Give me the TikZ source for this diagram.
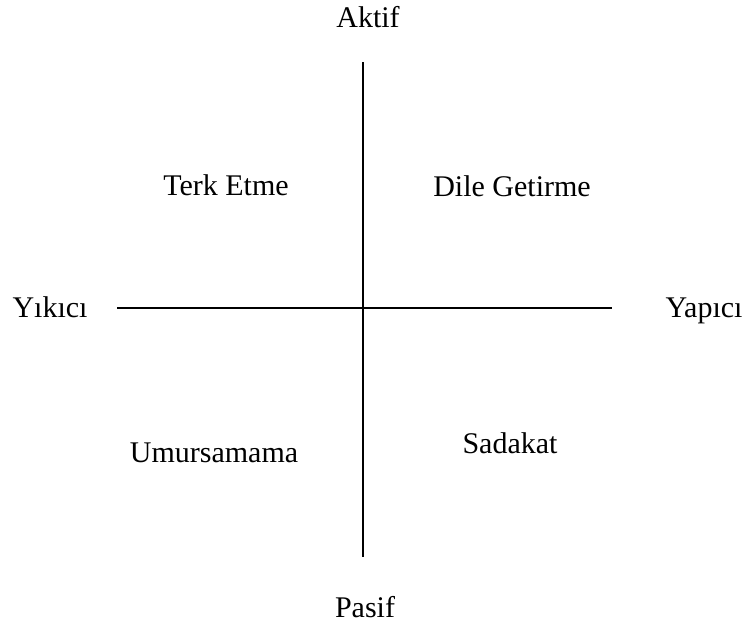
\documentclass[tikz,border=0pt]{standalone}
\usepackage{fontspec}
\setmainfont{Liberation Serif}
\usetikzlibrary{positioning}

\begin{document}
\begin{tikzpicture}[x=0.5pt,y=-0.5pt,
    lbl/.style={anchor=base,inner sep=0pt,font=\fontsize{15}{18}\selectfont},
    axis/.style={line width=0.65pt}]
    \useasboundingbox (0,0) rectangle (747,628);
    \coordinate (top) at (363,62);
    \coordinate (bot) at (363,557);
    \coordinate (lft) at (117,308);
    \coordinate (rgt) at (612,308);
    \draw[axis] (top) -- (bot);
    \draw[axis] (lft) -- (rgt);
    \node[lbl] (aktif) at (368,27) {Aktif};
    \node[lbl] (pasif) at (365,617) {Pasif};
    \node[lbl] (yikici) at (50,317) {Yıkıcı};
    \node[lbl] (yapici) at (704,317) {Yapıcı};
    \node[lbl] (terk) at (226,195) {Terk Etme};
    \node[lbl] (dile) at (512,196) {Dile Getirme};
    \node[lbl] (umur) at (214,462) {Umursamama};
    \node[lbl] (sadakat) at (510,453) {Sadakat};
  \end{tikzpicture}
\end{document}
